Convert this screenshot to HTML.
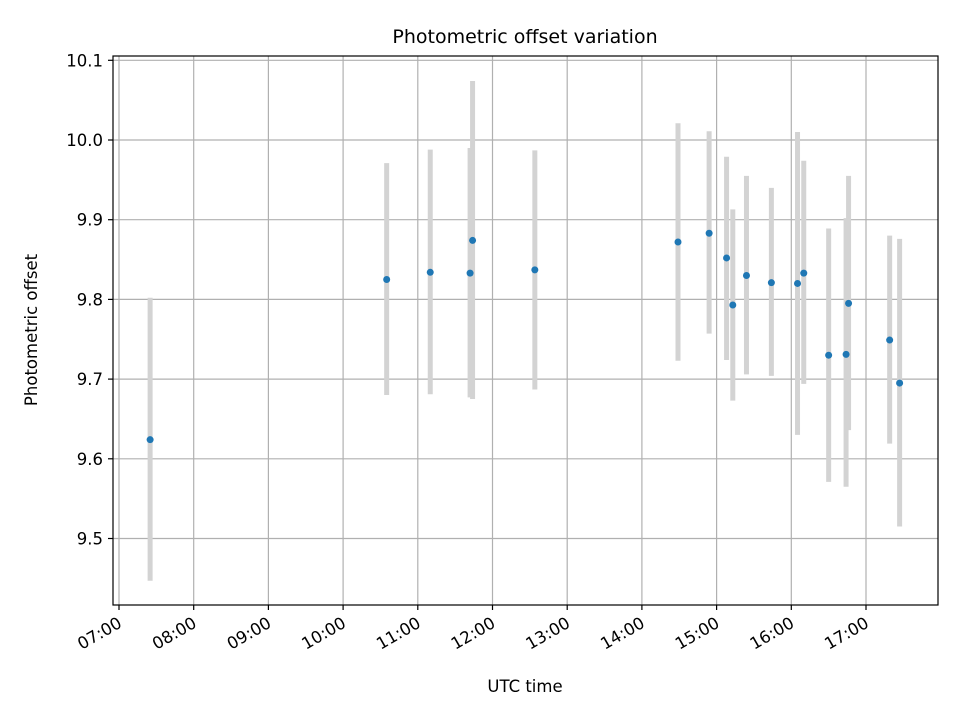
<!DOCTYPE html>
<html><head><meta charset="utf-8"><style>
html,body{margin:0;padding:0;background:#fff;}
svg{display:block;font-family:"DejaVu Sans","Liberation Sans",sans-serif;}
</style></head><body>
<svg id="chart" width="960" height="720" viewBox="0 0 960 720">
<rect x="0" y="0" width="960" height="720" fill="#fff"/>
<g id="grid"></g>
<g id="bars"></g>
<g id="pts"></g>
<rect x="113" y="56" width="825" height="549" fill="none" stroke="#000" stroke-width="1.2"/>
<g id="xt"></g>
<g id="yt"></g>
<text x="525" y="43" text-anchor="middle" font-size="19">Photometric offset variation</text>
<text x="525" y="692" text-anchor="middle" font-size="16.5">UTC time</text>
<text x="37" y="330" text-anchor="middle" font-size="16.5" transform="rotate(-90 37 330)">Photometric offset</text>
</svg>
<script>
const times = ["07:25","10:35","11:10","11:42","11:44","12:34","14:29","14:54","15:08","15:13","15:24","15:44","16:05","16:10","16:30","16:44","16:46","17:19","17:27"];
const values = [9.624,9.825,9.834,9.833,9.874,9.837,9.872,9.883,9.852,9.793,9.830,9.821,9.820,9.833,9.730,9.731,9.795,9.749,9.695];
const errHigh = [9.802,9.971,9.988,9.990,10.074,9.987,10.021,10.011,9.979,9.913,9.955,9.940,10.010,9.974,9.889,9.902,9.955,9.880,9.876];
const errLow = [9.447,9.680,9.681,9.677,9.675,9.687,9.723,9.757,9.724,9.673,9.706,9.704,9.630,9.694,9.571,9.565,9.636,9.619,9.515];
const xTickLabels = ["07:00","08:00","09:00","10:00","11:00","12:00","13:00","14:00","15:00","16:00","17:00"];
const yTickLabels = ["9.5","9.6","9.7","9.8","9.9","10.0","10.1"];

const NS="http://www.w3.org/2000/svg";
const L=113,R=938,T=56,B=605;
const X0=7, X1=17, PX0=119, PX1=866;
function hrs(s){const p=s.split(":");return +p[0]+(+p[1])/60;}
function xs(h){return PX0+(h-X0)*(PX1-PX0)/(X1-X0);}
function ys(v){return 140+(10-v)*797;}
function mk(tag,attrs,parent){const e=document.createElementNS(NS,tag);for(const k in attrs)e.setAttribute(k,attrs[k]);parent.appendChild(e);return e;}
const grid=document.getElementById("grid"),bars=document.getElementById("bars"),pts=document.getElementById("pts"),xt=document.getElementById("xt"),yt=document.getElementById("yt");
xTickLabels.forEach(lab=>{
  const x=xs(hrs(lab));
  const g=mk("line",{x1:x,x2:x,y1:T,y2:B,stroke:"#b0b0b0","stroke-width":1.2},grid);
  
  
  const t=mk("line",{x1:x,x2:x,y1:B,y2:B+5,stroke:"#000","stroke-width":1.2},xt);
  
  
  const tx=mk("text",{x:x+1,y:B+22,"text-anchor":"end","font-size":"16.5",transform:"rotate(-30 "+(x+1)+" "+(B+16)+")"},xt);
  tx.textContent=lab;
  
  
});
yTickLabels.forEach(lab=>{
  const y=ys(+lab);
  const g=mk("line",{x1:L,x2:R,y1:y,y2:y,stroke:"#b0b0b0","stroke-width":1.2},grid);
  
  
  const t=mk("line",{x1:L-5,x2:L,y1:y,y2:y,stroke:"#000","stroke-width":1.2},yt);
  
  
  const tx=mk("text",{x:L-10,y:y+6,"text-anchor":"end","font-size":"16.5"},yt);
  tx.textContent=lab;
  
  
});
times.forEach((tm,i)=>{
  const x=xs(hrs(tm));
  const b=mk("line",{x1:x,x2:x,y1:ys(errHigh[i]),y2:ys(errLow[i]),stroke:"#d3d3d3","stroke-width":5},bars);
  
  
  const c=mk("circle",{cx:x,cy:ys(values[i]),r:3.5,fill:"#1f77b4"},pts);
  
  
});
</script>
</body></html>
